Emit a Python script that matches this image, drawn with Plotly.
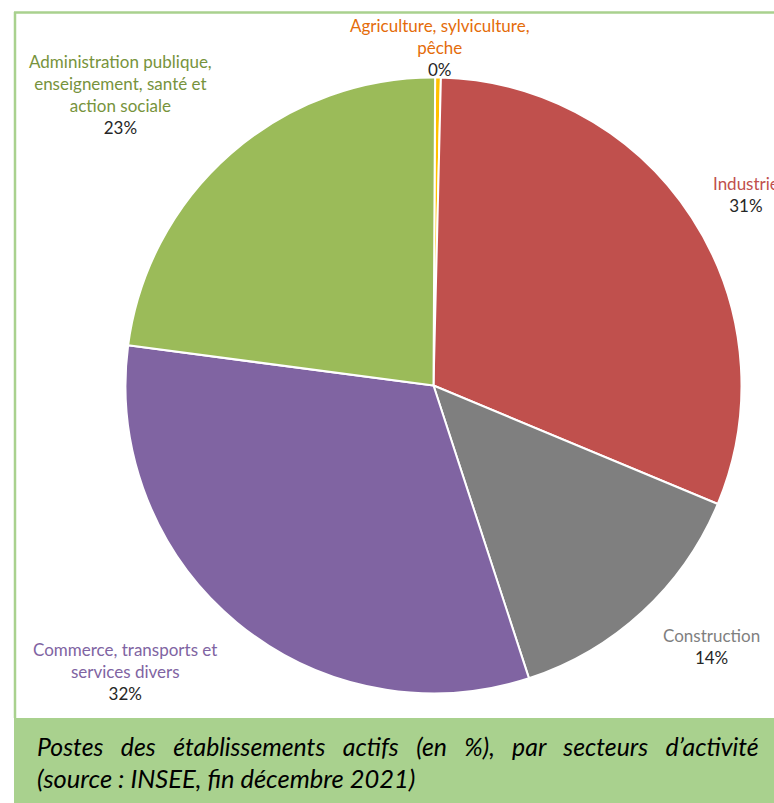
import plotly.graph_objects as go

# ---- data ----
categories = [
    "Agriculture, sylviculture,<br>pêche",
    "Industrie",
    "Construction",
    "Commerce, transports et<br>services divers",
    "Administration publique,<br>enseignement, santé et<br>action sociale",
]
values = [0.3, 30.9, 13.7, 32.1, 23.0]
slice_colors = ["#ffc000", "#c0504d", "#7f7f7f", "#8064a2", "#9bbb59"]
label_colors = ["#e46c0a", "#c0504d", "#7f7f7f", "#8064a2", "#77933c"]
caption_lines = [
    "Postes   des   établissements   actifs   (en   %),   par   secteurs   d’activité",
    "(source : INSEE, fin décembre 2021)",
]

W, H = 774, 803
FONT = "Lato, Open Sans, sans-serif"

def px(x):
    return x / W

def py(y):
    return 1 - y / H

fig = go.Figure()
fig.add_trace(go.Pie(
    labels=[c.replace("<br>", " ") for c in categories],
    values=values,
    sort=False,
    direction="clockwise",
    rotation=0.3,
    marker=dict(colors=slice_colors, line=dict(color="white", width=2)),
    textinfo="none",
    hoverinfo="label+percent",
    showlegend=False,
    domain=dict(x=[px(125.5), px(741.5)], y=[py(693.5), py(77.5)]),
))

total = sum(values)
# label anchor points (center of text block, top y)
label_pos = [(440, 13), (746, 171), (711, 623), (125, 637), (120, 49)]
annotations = []
for cat, v, col, (lx, ly) in zip(categories, values, label_colors, label_pos):
    pct = f"{round(100 * v / total):d}%"
    annotations.append(dict(
        x=px(lx), y=py(ly), xref="paper", yref="paper",
        xanchor="center", yanchor="top", showarrow=False, align="center",
        text=f"{cat}<br><span style='color:#262626'>{pct}</span>",
        font=dict(family=FONT, size=17, color=col),
    ))

cap_y = [746, 778]
cap_size = [24.8, 25.5]
for line, yy, sz in zip(caption_lines, cap_y, cap_size):
    annotations.append(dict(
        x=px(35), y=py(yy), xref="paper", yref="paper",
        xanchor="left", yanchor="middle", showarrow=False, align="left",
        text=f"<i>{line}</i>",
        font=dict(family=FONT, size=sz, color="#000000"),
    ))

shapes = [
    dict(type="line", xref="paper", yref="paper", x0=px(14), x1=px(W + 20),
         y0=py(12.5), y1=py(12.5), line=dict(color="#a9d18e", width=2.5)),
    dict(type="line", xref="paper", yref="paper", x0=px(15), x1=px(15),
         y0=py(12), y1=py(718), line=dict(color="#a9d18e", width=2.5)),
    dict(type="rect", xref="paper", yref="paper", x0=px(14), x1=px(W + 20),
         y0=py(718), y1=py(H + 20), line=dict(width=0), fillcolor="#a9d18e",
         layer="below"),
]

fig.update_layout(
    width=W, height=H,
    margin=dict(l=0, r=0, t=0, b=0),
    paper_bgcolor="white", plot_bgcolor="white",
    annotations=annotations, shapes=shapes,
)
fig.write_html(
    "out.html",
    config={"displayModeBar": False},
    post_script="document.body.style.margin='0';document.body.style.overflow='hidden';",
)
